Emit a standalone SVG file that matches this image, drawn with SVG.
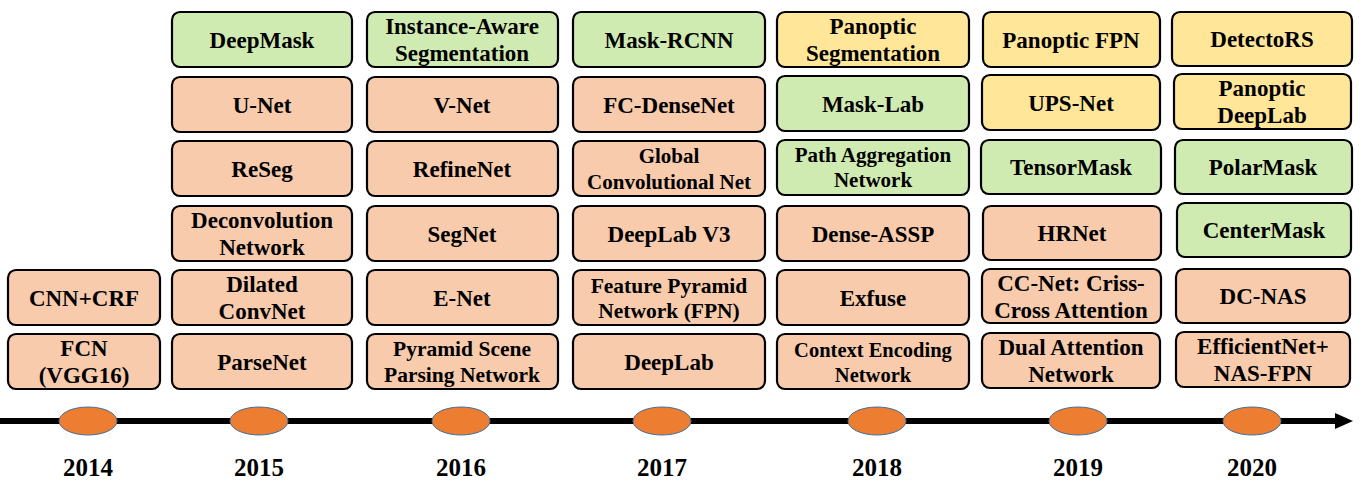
<svg xmlns="http://www.w3.org/2000/svg" width="1364" height="486" viewBox="0 0 1364 486">
<style>
rect{stroke:#000;stroke-width:2.2}
.o{fill:#F8CBAD}.g{fill:#D0EBB2}.y{fill:#FFE699}
ellipse{fill:#ED7D31;stroke:#41719C;stroke-width:1}
</style>
<defs><marker id="ah" markerWidth="18" markerHeight="16" refX="0" refY="8" orient="auto" markerUnits="userSpaceOnUse"><path d="M0,0 L18,8 L0,16 Z" fill="#000"/></marker></defs>
<g id="connectors">
<line x1="0" y1="421" x2="1335" y2="421" stroke="#000" stroke-width="6" marker-end="url(#ah)"/>
</g>
<g id="timeline">
<ellipse cx="88" cy="421" rx="29" ry="14"/>
<ellipse cx="259" cy="421" rx="29" ry="14"/>
<ellipse cx="461" cy="421" rx="29" ry="14"/>
<ellipse cx="662" cy="421" rx="29" ry="14"/>
<ellipse cx="877" cy="421" rx="29" ry="14"/>
<ellipse cx="1078" cy="421" rx="29" ry="14"/>
<ellipse cx="1252" cy="421" rx="29" ry="14"/>
<g font-family="Liberation Serif, serif" font-weight="bold" font-size="25" text-anchor="middle">
<text font-family="Liberation Serif, serif" x="88" y="476">2014</text>
<text font-family="Liberation Serif, serif" x="259" y="476">2015</text>
<text font-family="Liberation Serif, serif" x="461" y="476">2016</text>
<text font-family="Liberation Serif, serif" x="662" y="476">2017</text>
<text font-family="Liberation Serif, serif" x="877" y="476">2018</text>
<text font-family="Liberation Serif, serif" x="1078" y="476">2019</text>
<text font-family="Liberation Serif, serif" x="1252" y="476">2020</text>
</g>
</g>
<g id="nodes" font-family="Liberation Serif, serif" font-weight="bold" font-size="23" text-anchor="middle">
<g id="cnncrf"><rect class="o" rx="8" x="8" y="270" width="152" height="55"/><text font-family="Liberation Serif, serif" x="84" y="305.5">CNN+CRF</text></g>
<g id="fcn"><rect class="o" rx="8" x="8" y="334" width="152" height="55"/><text font-family="Liberation Serif, serif" x="84" y="356">FCN</text><text font-family="Liberation Serif, serif" x="84" y="383">(VGG16)</text></g>
<g id="deepmask"><rect class="g" rx="8" x="172" y="12" width="180" height="55"/><text font-family="Liberation Serif, serif" x="262" y="47.5">DeepMask</text></g>
<g id="unet"><rect class="o" rx="8" x="172" y="77" width="180" height="55"/><text font-family="Liberation Serif, serif" x="262" y="112.5">U-Net</text></g>
<g id="reseg"><rect class="o" rx="8" x="172" y="141" width="180" height="55"/><text font-family="Liberation Serif, serif" x="262" y="176.5">ReSeg</text></g>
<g id="deconv"><rect class="o" rx="8" x="172" y="206" width="180" height="55"/><text font-family="Liberation Serif, serif" x="262" y="228">Deconvolution</text><text font-family="Liberation Serif, serif" x="262" y="255">Network</text></g>
<g id="dilated"><rect class="o" rx="8" x="172" y="270" width="180" height="55"/><text font-family="Liberation Serif, serif" x="262" y="292">Dilated</text><text font-family="Liberation Serif, serif" x="262" y="319">ConvNet</text></g>
<g id="parsenet"><rect class="o" rx="8" x="172" y="334" width="180" height="55"/><text font-family="Liberation Serif, serif" x="262" y="369.5">ParseNet</text></g>
<g id="instance"><rect class="g" rx="8" x="367" y="12" width="191" height="55"/><text font-family="Liberation Serif, serif" x="462" y="34">Instance-Aware</text><text font-family="Liberation Serif, serif" x="462" y="61">Segmentation</text></g>
<g id="vnet"><rect class="o" rx="8" x="367" y="77" width="191" height="55"/><text font-family="Liberation Serif, serif" x="462" y="112.5">V-Net</text></g>
<g id="refinenet"><rect class="o" rx="8" x="367" y="141" width="191" height="55"/><text font-family="Liberation Serif, serif" x="462" y="176.5">RefineNet</text></g>
<g id="segnet"><rect class="o" rx="8" x="367" y="206" width="191" height="55"/><text font-family="Liberation Serif, serif" x="462" y="241.5">SegNet</text></g>
<g id="enet"><rect class="o" rx="8" x="367" y="270" width="191" height="55"/><text font-family="Liberation Serif, serif" x="462" y="305.5">E-Net</text></g>
<g id="pspnet"><rect class="o" rx="8" x="367" y="334" width="191" height="55"/><text font-family="Liberation Serif, serif" font-size="21.5" x="462" y="356">Pyramid Scene</text><text font-family="Liberation Serif, serif" font-size="21.5" x="462" y="382">Parsing Network</text></g>
<g id="maskrcnn"><rect class="g" rx="8" x="573" y="12" width="192" height="55"/><text font-family="Liberation Serif, serif" x="669" y="47.5">Mask-RCNN</text></g>
<g id="fcdensenet"><rect class="o" rx="8" x="573" y="77" width="192" height="55"/><text font-family="Liberation Serif, serif" x="669" y="112.5">FC-DenseNet</text></g>
<g id="gcn"><rect class="o" rx="8" x="573" y="141" width="192" height="55"/><text font-family="Liberation Serif, serif" font-size="21" x="669" y="163">Global</text><text font-family="Liberation Serif, serif" font-size="21" x="669" y="189">Convolutional Net</text></g>
<g id="deeplabv3"><rect class="o" rx="8" x="573" y="206" width="192" height="55"/><text font-family="Liberation Serif, serif" x="669" y="241.5">DeepLab V3</text></g>
<g id="fpn"><rect class="o" rx="8" x="573" y="270" width="192" height="55"/><text font-family="Liberation Serif, serif" font-size="21.5" x="669" y="292.5">Feature Pyramid</text><text font-family="Liberation Serif, serif" font-size="21.5" x="669" y="317.5">Network (FPN)</text></g>
<g id="deeplab"><rect class="o" rx="8" x="573" y="334" width="192" height="55"/><text font-family="Liberation Serif, serif" x="669" y="369.5">DeepLab</text></g>
<g id="panseg"><rect class="y" rx="8" x="777" y="12" width="192" height="55"/><text font-family="Liberation Serif, serif" x="873" y="34">Panoptic</text><text font-family="Liberation Serif, serif" x="873" y="61">Segmentation</text></g>
<g id="masklab"><rect class="g" rx="8" x="777" y="76" width="192" height="55"/><text font-family="Liberation Serif, serif" x="873" y="111.5">Mask-Lab</text></g>
<g id="panet"><rect class="g" rx="8" x="777" y="140" width="192" height="55"/><text font-family="Liberation Serif, serif" font-size="21" x="873" y="162">Path Aggregation</text><text font-family="Liberation Serif, serif" font-size="21" x="873" y="187">Network</text></g>
<g id="denseaspp"><rect class="o" rx="8" x="777" y="206" width="192" height="55"/><text font-family="Liberation Serif, serif" x="873" y="241.5">Dense-ASSP</text></g>
<g id="exfuse"><rect class="o" rx="8" x="777" y="270" width="192" height="55"/><text font-family="Liberation Serif, serif" x="873" y="305.5">Exfuse</text></g>
<g id="encnet"><rect class="o" rx="8" x="777" y="334" width="192" height="55"/><text font-family="Liberation Serif, serif" font-size="20.5" x="873" y="357">Context Encoding</text><text font-family="Liberation Serif, serif" font-size="20.5" x="873" y="382">Network</text></g>
<g id="panfpn"><rect class="y" rx="8" x="983" y="12" width="177" height="55"/><text font-family="Liberation Serif, serif" x="1071" y="47.5">Panoptic FPN</text></g>
<g id="upsnet"><rect class="y" rx="8" x="982" y="75" width="178" height="55"/><text font-family="Liberation Serif, serif" x="1071" y="110.5">UPS-Net</text></g>
<g id="tensormask"><rect class="g" rx="8" x="981" y="140" width="180" height="54"/><text font-family="Liberation Serif, serif" x="1071" y="175">TensorMask</text></g>
<g id="hrnet"><rect class="o" rx="8" x="983" y="206" width="178" height="54"/><text font-family="Liberation Serif, serif" x="1072" y="241">HRNet</text></g>
<g id="ccnet"><rect class="o" rx="8" x="982" y="269" width="179" height="54"/><text font-family="Liberation Serif, serif" x="1071" y="290.5">CC-Net: Criss-</text><text font-family="Liberation Serif, serif" x="1071" y="317.5">Cross Attention</text></g>
<g id="danet"><rect class="o" rx="8" x="982" y="333" width="178" height="55"/><text font-family="Liberation Serif, serif" x="1071" y="355">Dual Attention</text><text font-family="Liberation Serif, serif" x="1071" y="382">Network</text></g>
<g id="detectors"><rect class="y" rx="8" x="1172" y="12" width="180" height="54"/><text font-family="Liberation Serif, serif" x="1262" y="47">DetectoRS</text></g>
<g id="pandeeplab"><rect class="y" rx="8" x="1174" y="74" width="177" height="55"/><text font-family="Liberation Serif, serif" x="1262" y="96">Panoptic</text><text font-family="Liberation Serif, serif" x="1262" y="123">DeepLab</text></g>
<g id="polarmask"><rect class="g" rx="8" x="1175" y="140" width="177" height="54"/><text font-family="Liberation Serif, serif" x="1263" y="175">PolarMask</text></g>
<g id="centermask"><rect class="g" rx="8" x="1177" y="203" width="174" height="54"/><text font-family="Liberation Serif, serif" x="1264" y="238">CenterMask</text></g>
<g id="dcnas"><rect class="o" rx="8" x="1176" y="269" width="174" height="54"/><text font-family="Liberation Serif, serif" x="1263" y="304">DC-NAS</text></g>
<g id="effnet"><rect class="o" rx="8" x="1176" y="332" width="174" height="55"/><text font-family="Liberation Serif, serif" x="1263" y="354">EfficientNet+</text><text font-family="Liberation Serif, serif" x="1263" y="381">NAS-FPN</text></g>
</g>
</svg>
